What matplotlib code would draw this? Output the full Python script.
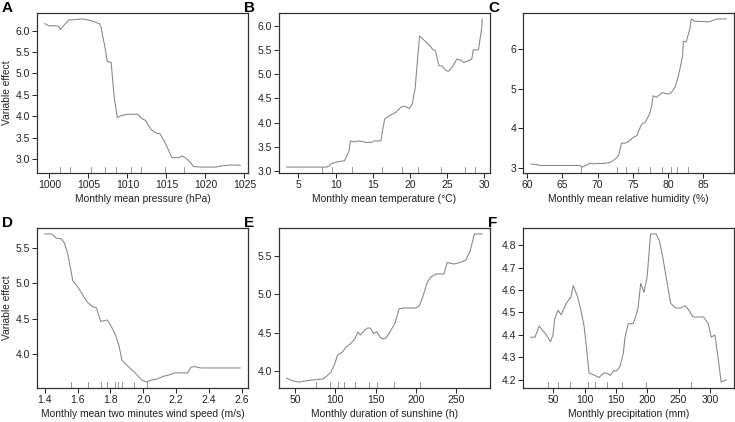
import numpy as np
import matplotlib
matplotlib.use("Agg")
import matplotlib.pyplot as plt

plt.rcParams['font.family'] = ['Liberation Sans', 'DejaVu Sans']

# A - presion media mensual
pres_x = [999.4, 999.9, 1000.85, 1001.2, 1001.4, 1001.7, 1002.5, 1003.0, 1004.25, 1005.3,
          1006.4, 1006.6, 1007.2, 1007.4, 1007.9, 1008.3, 1008.7, 1009.1, 1010.0, 1011.3,
          1011.9, 1012.3, 1013.0, 1013.6, 1014.2, 1014.7, 1015.3, 1015.7, 1016.6, 1017.0,
          1017.4, 1017.9, 1018.5, 1019.6, 1021.3, 1022.1, 1023.4, 1024.45]
pres_y = [6.16, 6.11, 6.11, 6.09, 6.02, 6.09, 6.25, 6.25, 6.27, 6.23,
          6.16, 6.08, 5.53, 5.28, 5.26, 4.44, 3.97, 4.01, 4.05, 4.05,
          3.94, 3.91, 3.70, 3.62, 3.59, 3.43, 3.20, 3.04, 3.04, 3.08,
          3.04, 2.96, 2.83, 2.82, 2.82, 2.85, 2.87, 2.86]
pres_rug = [1001.3, 1002.6, 1005.3, 1007.1, 1008.5, 1010.4, 1011.7, 1014.8, 1017.3]

# B - temperatura
temp_x = [3.45, 8.8, 9.1, 9.4, 10.3, 11.2, 11.8, 12.0, 12.55, 13.2, 14.1, 14.8, 15.2, 16.1,
          16.3, 16.6, 17.2, 18.1, 18.8, 19.2, 19.65, 19.9, 20.3, 20.7, 21.0, 21.3, 21.9,
          22.5, 23.0, 23.4, 23.9, 24.3, 24.85, 25.2, 25.65, 26.3, 26.8, 27.2, 27.9, 28.3,
          28.5, 29.2, 29.65, 29.7]
temp_y = [3.08, 3.08, 3.10, 3.15, 3.19, 3.21, 3.41, 3.62, 3.60, 3.62, 3.59, 3.59, 3.62, 3.62,
          3.83, 4.07, 4.14, 4.21, 4.32, 4.34, 4.31, 4.29, 4.38, 4.72, 5.28, 5.79, 5.70,
          5.62, 5.52, 5.48, 5.17, 5.17, 5.07, 5.06, 5.14, 5.31, 5.29, 5.24, 5.28, 5.31,
          5.50, 5.50, 5.97, 6.14]
temp_rug = [8.2, 9.5, 12.2, 16.2, 18.9, 21.1, 24.1, 27.4, 28.75]

# C - humedad relativa
hum_x = [60.5, 61.4, 61.9, 67.5, 67.8, 68.3, 69.0, 69.4, 69.9, 70.85, 71.8, 72.5, 73.0,
         73.4, 73.9, 74.4, 75.1, 75.6, 75.9, 76.3, 76.75, 77.4, 77.7, 77.9, 78.4, 78.9,
         79.3, 80.0, 80.5, 81.0, 81.5, 81.8, 82.1, 82.2, 82.6, 83.1, 83.35, 83.8, 85.9,
         86.65, 87.1, 88.3]
hum_y = [3.11, 3.09, 3.07, 3.07, 3.03, 3.07, 3.13, 3.11, 3.12, 3.12, 3.15, 3.23, 3.32,
         3.63, 3.63, 3.67, 3.78, 3.82, 3.96, 4.11, 4.15, 4.36, 4.57, 4.82, 4.78, 4.86,
         4.90, 4.86, 4.90, 5.03, 5.32, 5.57, 5.82, 6.19, 6.17, 6.48, 6.75, 6.69, 6.68,
         6.73, 6.75, 6.75]
hum_rug = [67.6, 72.7, 74.1, 75.8, 77.5, 79.2, 80.5, 81.3, 82.8]

# D - velocidad del viento
wind_x = [1.40, 1.44, 1.47, 1.50, 1.52, 1.54, 1.56, 1.57, 1.60, 1.63, 1.66, 1.69, 1.715,
          1.74, 1.76, 1.78, 1.80, 1.83, 1.85, 1.87, 1.90, 1.95, 1.99, 2.02, 2.05, 2.08,
          2.12, 2.17, 2.19, 2.22, 2.27, 2.29, 2.31, 2.35, 2.59]
wind_y = [5.70, 5.70, 5.64, 5.63, 5.57, 5.41, 5.17, 5.04, 4.95, 4.84, 4.73, 4.67, 4.65,
          4.46, 4.47, 4.48, 4.41, 4.27, 4.13, 3.91, 3.84, 3.73, 3.63, 3.60, 3.63, 3.64,
          3.68, 3.71, 3.73, 3.73, 3.73, 3.81, 3.82, 3.80, 3.80]
wind_rug = [1.56, 1.66, 1.74, 1.777, 1.826, 1.845, 1.87, 1.943, 2.025]

# E - horas de sol
sun_x = [39.8, 45.9, 50.0, 54.9, 60.2, 66.3, 74.4, 84.6, 88.6, 94.7, 98.8, 102.8, 108.9,
         113.0, 119.1, 124.4, 128.0, 131.3, 136.2, 140.2, 143.5, 147.6, 151.6, 155.7,
         158.9, 163.0, 167.9, 174.0, 179.3, 184.1, 192.3, 200.4, 204.5, 208.5, 214.6,
         218.7, 224.8, 235.0, 239.0, 247.2, 255.3, 262.2, 267.5, 272.8, 282.5]
sun_y = [3.91, 3.88, 3.87, 3.86, 3.87, 3.88, 3.89, 3.90, 3.93, 3.99, 4.08, 4.21, 4.25,
         4.31, 4.36, 4.42, 4.51, 4.47, 4.53, 4.56, 4.56, 4.49, 4.51, 4.44,
         4.42, 4.43, 4.51, 4.62, 4.81, 4.82, 4.82, 4.82, 4.85, 4.96, 5.16,
         5.22, 5.26, 5.26, 5.41, 5.39, 5.41, 5.44, 5.56, 5.78, 5.78]
sun_rug = [76, 94, 104, 111, 125, 142, 152, 173, 205]

# F - precipitacion
prec_x = [14.0, 20.7, 27.4, 32.8, 39.0, 45.3, 49.4, 52.0, 57.3, 62.5, 70.4, 78.2, 81.8,
          88.6, 93.9, 99.0, 102.7, 106.9, 116.3, 122.6, 130.4, 135.6, 140.9, 146.1,
          151.3, 156.6, 161.8, 164.4, 169.6, 177.4, 180.1, 185.3, 189.5, 194.7, 199.8,
          205.2, 214.0, 219.3, 224.5, 232.3, 237.5, 245.3, 253.1, 261.0, 266.3, 273.0,
          282.0, 289.8, 297.6, 302.0, 308.0, 313.0, 318.0, 326.0]
prec_y = [4.39, 4.39, 4.44, 4.42, 4.40, 4.37, 4.40, 4.47, 4.51, 4.49, 4.54, 4.57, 4.62,
          4.57, 4.51, 4.44, 4.35, 4.23, 4.22, 4.21, 4.23, 4.23, 4.22, 4.24,
          4.24, 4.26, 4.32, 4.39, 4.45, 4.45, 4.47, 4.52, 4.63, 4.59, 4.66,
          4.85, 4.85, 4.82, 4.75, 4.62, 4.54, 4.52, 4.52, 4.53, 4.51, 4.48,
          4.48, 4.48, 4.45, 4.39, 4.40, 4.30, 4.19, 4.20]
prec_rug = [42, 57, 77, 105, 117, 136, 159, 198, 270]

paneles = [
    ("A", pres_x, pres_y, pres_rug, "Monthly mean pressure (hPa)",
     np.arange(1000, 1026, 5), "%d", np.arange(3.0, 6.01, 0.5), "%.1f", True),
    ("B", temp_x, temp_y, temp_rug, "Monthly mean temperature (\u00b0C)",
     np.arange(5, 31, 5), "%d", np.arange(3.0, 6.01, 0.5), "%.1f", False),
    ("C", hum_x, hum_y, hum_rug, "Monthly mean relative humidity (%)",
     np.arange(60, 86, 5), "%d", np.arange(3, 7, 1), "%d", False),
    ("D", wind_x, wind_y, wind_rug, "Monthly mean two minutes wind speed (m/s)",
     np.arange(1.4, 2.61, 0.2), "%.1f", np.arange(4.0, 5.51, 0.5), "%.1f", True),
    ("E", sun_x, sun_y, sun_rug, "Monthly duration of sunshine (h)",
     np.arange(50, 251, 50), "%d", np.arange(4.0, 5.51, 0.5), "%.1f", False),
    ("F", prec_x, prec_y, prec_rug, "Monthly precipitation (mm)",
     np.arange(50, 301, 50), "%d", np.arange(4.2, 4.81, 0.1), "%.1f", False),
]

W, H = 735, 422
fig = plt.figure(figsize=(W / 100, H / 100), dpi=100)

lefts = [37, 279, 523]
tops = [13, 228]
aw, ah = 211, 160

for i, (letra, x, y, rug, xlab, xt, xfmt, yt, yfmt, ylab) in enumerate(paneles):
    fila, col = divmod(i, 3)
    ax = fig.add_axes([lefts[col] / W, 1 - (tops[fila] + ah) / H, aw / W, ah / H])
    ax.plot(x, y, color="#858585", lw=0.75)
    ax.margins(x=0.04, y=0.04)
    ax.set_xticks(xt)
    ax.set_yticks(yt)
    ax.set_xticklabels([xfmt % v for v in xt])
    ax.set_yticklabels([yfmt % v for v in yt])
    ax.tick_params(labelsize=7.5, length=3.5, width=0.7, pad=1.5, colors="#222222")
    for s in ax.spines.values():
        s.set_linewidth(0.9)
        s.set_color("#333333")
    # rug de deciles
    for r in rug:
        ax.plot([r, r], [0, 0.035], transform=ax.get_xaxis_transform(),
                color="#888888", lw=0.6, clip_on=False)
    ax.set_xlabel(xlab, fontsize=7.4, labelpad=3, color="#222222")
    if ylab:
        ax.set_ylabel("Variable effect", fontsize=7.4, labelpad=3, color="#222222")
    fig.text((lefts[col] - 35) / W, 1 - (tops[fila] - 12) / H, letra, fontsize=11,
             fontweight="bold", va="top", ha="left")

fig.savefig("out.png", dpi=100)
